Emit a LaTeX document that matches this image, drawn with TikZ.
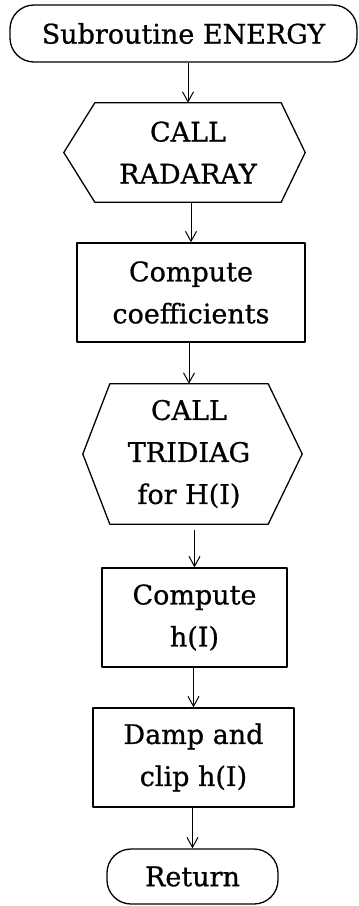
\documentclass[tikz,border=0pt]{standalone}
\usepackage{fontspec}
\setmainfont{DejaVu Serif}[FakeBold=0.8]
\usetikzlibrary{arrows.meta}
\begin{document}
\begin{tikzpicture}[
    x=1pt, y=-1pt,
    every node/.style={align=center, inner sep=0pt, font=\fontsize{27}{42}\selectfont},
    outline/.style={draw, line width=1.3pt, line join=round},
    terminal/.style={outline, rounded corners=24pt},
    procbox/.style={outline, minimum height=99pt},
    callbox/.style={minimum height=99pt},
    flow/.style={-{Straight Barb[length=10pt, width=11pt]}, line width=1pt},
]
  \useasboundingbox (0,0) rectangle (359,906);
  \node [terminal, minimum width=347pt, minimum height=57pt] (start)   at (183.5, 33.5) {Subroutine ENERGY};
  \node [callbox,  minimum width=186pt]                      (radaray) at (188, 152.5)  {CALL\\RADARAY};
  \node [procbox,  minimum width=228pt]                      (coeff)   at (191, 292.5)  {Compute\\coefficients};
  \node [callbox,  minimum width=158pt, minimum height=140pt] (tridiag) at (189, 454)   {CALL\\TRIDIAG\\for H(I)};
  \node [procbox,  minimum width=185pt]                      (hcomp)   at (194.5, 617.5) {Compute\\h(I)};
  \node [procbox,  minimum width=201pt]                      (damp)    at (193.5, 757.5) {Damp and\\clip h(I)};
  \node [terminal, minimum width=171pt, minimum height=55pt] (ret)     at (192.5, 876.5) {Return};
  % call boxes drawn as hexagons
  \draw [outline] (radaray.north west) -- (radaray.north east) -- ([xshift=24pt]radaray.east)
                  -- (radaray.south east) -- (radaray.south west) -- ([xshift=-31pt]radaray.west) -- cycle;
  \draw [outline] (tridiag.north west) -- (tridiag.north east) -- ([xshift=34pt]tridiag.east)
                  -- (tridiag.south east) -- (tridiag.south west) -- ([xshift=-27pt]tridiag.west) -- cycle;
  % connectors
  \draw [flow] (radaray.north |- start.south)   -- (radaray.north);
  \draw [flow] (coeff.north   |- radaray.south) -- (coeff.north);
  \draw [flow] (tridiag.north |- coeff.south)   -- (tridiag.north);
  \draw [flow] ([yshift=-6pt]hcomp.north |- tridiag.south) -- (hcomp.north);
  \draw [flow] (damp.north    |- hcomp.south)   -- (damp.north);
  \draw [flow] (ret.north     |- damp.south)    -- (ret.north);
\end{tikzpicture}
\end{document}
